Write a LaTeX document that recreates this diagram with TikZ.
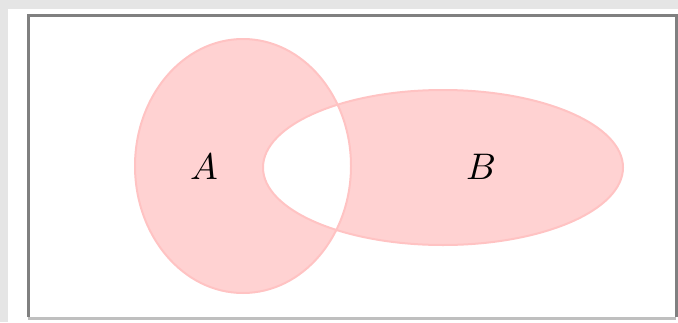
\documentclass[tikz,border=0pt]{standalone}
\definecolor{setfill}{RGB}{255,210,210}
\definecolor{setline}{RGB}{255,195,195}
\begin{document}
\begin{tikzpicture}[x=1pt,y=-1pt]
\useasboundingbox (0,0) rectangle (678,322);
\fill[black!10] (0,0) rectangle (678,322);
\fill[white] (8,9) rectangle (678,322);

% frame
\draw[line width=3pt,black!50] (28,317) -- (28,15) -- (676,15) -- (676,317);
\draw[line width=3pt,black!25] (28,318) -- (676,318);

% symmetric difference
\fill[setfill,even odd rule] (243,166) ellipse [x radius=108, y radius=127]
  (443,167.5) ellipse [x radius=180, y radius=77.5];
\draw[setline,line width=2pt] (243,166) ellipse [x radius=108, y radius=127];
\draw[setline,line width=2pt] (443,167.5) ellipse [x radius=180, y radius=77.5];

\node[scale=3.7] (labA) at (204,167) {$A$};
\node[scale=3.7] (labB) at (481,167) {$B$};
\end{tikzpicture}
\end{document}
